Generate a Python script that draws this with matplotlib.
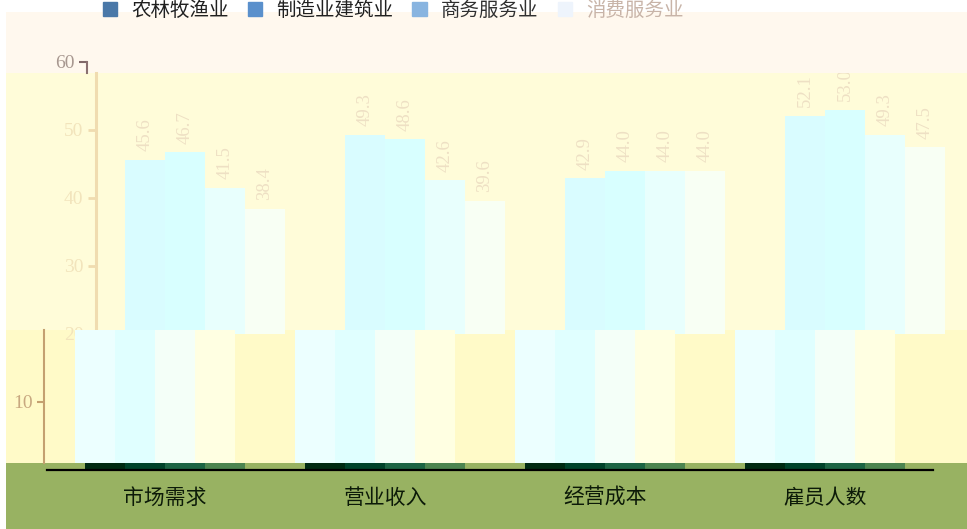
import numpy as np
import matplotlib
matplotlib.use('Agg')
import matplotlib.pyplot as plt
from matplotlib.patches import Rectangle, Patch

# data
categories = ['市场需求', '营业收入', '经营成本', '雇员人数']
series = ['农林牧渔业', '制造业建筑业', '商务服务业', '消费服务业']
agri = [45.6, 49.3, 42.9, 52.1]
manu = [46.7, 48.6, 44.0, 53.0]
biz = [41.5, 42.6, 44.0, 49.3]
cons = [38.4, 39.6, 44.0, 47.5]
values = [agri, manu, biz, cons]

legend_colors = ['#4a78a8', '#5a90cc', '#88b4e0', '#eef4fc']
legend_text_colors = ['#202020', '#202020', '#303030', '#c8b4a8']
up_colors = ['#d9fcff', '#d8ffff', '#e8fffd', '#f8fff4']
lo_colors = ['#ecffff', '#e0ffff', '#f4fff8', '#ffffe2']
strip_colors = ['#002a12', '#00422a', '#1c6444', '#4c8450']

W, H = 967, 529
SCALE = 6.8      # pixels per unit
ZERO = 470       # pixel row of value 0


def box(x0, y0, x1, y1):
    return [x0 / W, 1 - y1 / H, (x1 - x0) / W, (y1 - y0) / H]


def val(y):
    return (ZERO - y) / SCALE


fig = plt.figure(figsize=(W / 100, H / 100), dpi=100, facecolor='white')

# background bands
bands = [
    (6, 12, 967, 73, '#fff8ee'),
    (6, 73, 967, 330, '#fffcd9'),
    (6, 330, 967, 463, '#fffac8'),
    (6, 463, 967, 529, '#98b262'),
]
for x0, y0, x1, y1, c in bands:
    fig.add_artist(Rectangle((x0 / W, 1 - y1 / H), (x1 - x0) / W, (y1 - y0) / H,
                             transform=fig.transFigure, color=c, zorder=-1, lw=0))

x = np.arange(len(categories))
w = 40 / 220
offsets = (np.arange(len(series)) - 1.5) * w
xlim = (-0.536, 3.49)

ax_top = fig.add_axes(box(87, 12, 973, 73))
ax_up = fig.add_axes(box(87, 73, 973, 333.7))
ax_lo = fig.add_axes(box(37, 330, 923, 463))
ax_st = fig.add_axes(box(47, 463, 933, 470))
ax_top.set_zorder(1)
ax_up.set_zorder(1)
ax_lo.set_zorder(2)
ax_st.set_zorder(3)

for ax in [ax_top, ax_up, ax_lo, ax_st]:
    ax.set_facecolor('none')
    ax.set_xlim(*xlim)
    for s in ax.spines.values():
        s.set_visible(False)
    ax.set_xticks([])

ax_top.set_ylim(val(73), val(12))
ax_up.set_ylim(20, val(73))
ax_lo.set_ylim(val(463), val(330))
ax_st.set_ylim(0, val(463))

for i, vals in enumerate(values):
    ax_up.bar(x + offsets[i], vals, w, color=up_colors[i], lw=0)
    ax_lo.bar(x + offsets[i], vals, w, color=lo_colors[i], lw=0)
    ax_st.bar(x + offsets[i], vals, w, color=strip_colors[i], lw=0)
    for xi, v in zip(x + offsets[i], vals):
        ax_up.annotate(f'{v:.1f}', (xi, v), xytext=(0, 6), textcoords='offset points',
                       ha='center', va='bottom', rotation=90, fontsize=13.5,
                       family='Liberation Serif', color='#eee0c4', clip_on=True)

# y axes pieces
ax_top.spines['left'].set_visible(True)
ax_top.spines['left'].set_color('#8a7070')
ax_top.spines['left'].set_linewidth(1.5)
ax_top.spines['left'].set_bounds(val(73), 60)
ax_top.set_yticks([60])
ax_top.tick_params(axis='y', color='#806868', labelcolor='#a89890', length=6, width=1.5,
                   labelsize=14, pad=3)

ax_up.spines['left'].set_visible(True)
ax_up.spines['left'].set_color('#f0dcb0')
ax_up.spines['left'].set_linewidth(2.2)
ax_up.spines['left'].set_position(('outward', -6.5))
ax_up.set_yticks([20, 30, 40, 50])
ax_up.tick_params(axis='y', color='#f0dcb0', labelcolor='#f2e4bc', length=6, width=2,
                  labelsize=14, pad=3)

ax_lo.spines['left'].set_visible(True)
ax_lo.spines['left'].set_color('#c4a070')
ax_lo.spines['left'].set_linewidth(1.5)
ax_lo.spines['left'].set_position(('outward', -5))
ax_lo.set_yticks([10])
ax_lo.tick_params(axis='y', color='#c4a070', labelcolor='#c8a880', length=5, width=1.5,
                  labelsize=14, pad=3)

for ax in [ax_top, ax_up, ax_lo]:
    for lab in ax.get_yticklabels():
        lab.set_family('Liberation Serif')

ax_st.set_yticks([])
ax_st.spines['bottom'].set_visible(True)
ax_st.spines['bottom'].set_color('black')
ax_st.spines['bottom'].set_linewidth(1.6)
ax_st.set_xticks(x)
ax_st.set_xticklabels(categories, family='Noto Sans CJK SC', fontsize=15, color='#0c1a08',
                      weight='medium')
ax_st.tick_params(axis='x', length=0, pad=12)

handles = [Patch(color=c) for c in legend_colors]
leg = fig.legend(handles, series, loc='center', bbox_to_anchor=(393 / W, 1 - 10 / H), ncol=4,
                 frameon=False, prop={'family': 'Noto Sans CJK SC', 'size': 14},
                 handlelength=0.75, handleheight=0.75, handletextpad=0.7, columnspacing=1.0,
                 borderpad=0)
for t, c in zip(leg.get_texts(), legend_text_colors):
    t.set_color(c)

fig.savefig('out.png', dpi=100, facecolor='white')
